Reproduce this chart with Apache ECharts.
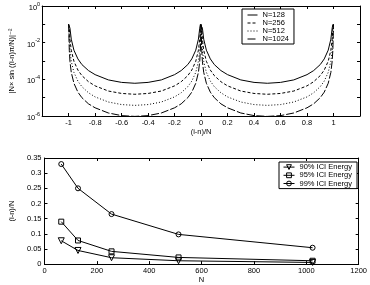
<!DOCTYPE html>
<html>
<head>
<meta charset="utf-8">
<script src="https://cdn.jsdelivr.net/npm/echarts@6/dist/echarts.min.js"></script>
<style>
  html, body { margin: 0; padding: 0; background: #fff; }
  #chart { width: 370px; height: 285px; }
</style>
</head>
<body>
<div id="chart"></div>
<script>
// top panel: |N x sin((i-n)pi/N)|^-2 against (i-n)/N
var xPos = [-1, -0.995, -0.99, -0.98, -0.96, -0.93, -0.9, -0.85, -0.8, -0.7, -0.6, -0.5,
    -0.4, -0.3, -0.2, -0.15, -0.1, -0.07, -0.04, -0.02, -0.01, -0.005, 0,
    0.005, 0.01, 0.02, 0.04, 0.07, 0.1, 0.15, 0.2, 0.3, 0.4, 0.5,
    0.6, 0.7, 0.8, 0.85, 0.9, 0.93, 0.96, 0.98, 0.99, 0.995, 1];

var n128 = [0.1, 0.1, 0.062, 0.0155, 0.0039, 0.0013, 6.4e-4, 3.0e-4, 1.8e-4, 9.3e-5, 6.8e-5, 6.1e-5,
    6.8e-5, 9.3e-5, 1.8e-4, 3.0e-4, 6.4e-4, 0.0013, 0.0039, 0.0155, 0.062, 0.1, 0.1,
    0.1, 0.062, 0.0155, 0.0039, 0.0013, 6.4e-4, 3.0e-4, 1.8e-4, 9.3e-5, 6.8e-5, 6.1e-5,
    6.8e-5, 9.3e-5, 1.8e-4, 3.0e-4, 6.4e-4, 0.0013, 0.0039, 0.0155, 0.062, 0.1, 0.1];

var n256 = [0.1, 0.062, 0.0155, 0.0039, 9.7e-4, 3.2e-4, 1.6e-4, 7.4e-5, 4.4e-5, 2.3e-5, 1.7e-5, 1.53e-5,
    1.7e-5, 2.3e-5, 4.4e-5, 7.4e-5, 1.6e-4, 3.2e-4, 9.7e-4, 0.0039, 0.0155, 0.062, 0.1,
    0.062, 0.0155, 0.0039, 9.7e-4, 3.2e-4, 1.6e-4, 7.4e-5, 4.4e-5, 2.3e-5, 1.7e-5, 1.53e-5,
    1.7e-5, 2.3e-5, 4.4e-5, 7.4e-5, 1.6e-4, 3.2e-4, 9.7e-4, 0.0039, 0.0155, 0.062, 0.1];

var n512 = [0.1, 0.0155, 0.0039, 9.7e-4, 2.4e-4, 8.0e-5, 4.0e-5, 1.85e-5, 1.1e-5, 5.8e-6, 4.2e-6, 3.8e-6,
    4.2e-6, 5.8e-6, 1.1e-5, 1.85e-5, 4.0e-5, 8.0e-5, 2.4e-4, 9.7e-4, 0.0039, 0.0155, 0.1,
    0.0155, 0.0039, 9.7e-4, 2.4e-4, 8.0e-5, 4.0e-5, 1.85e-5, 1.1e-5, 5.8e-6, 4.2e-6, 3.8e-6,
    4.2e-6, 5.8e-6, 1.1e-5, 1.85e-5, 4.0e-5, 8.0e-5, 2.4e-4, 9.7e-4, 0.0039, 0.0155, 0.1];

var n1024 = [0.1, 0.0039, 9.7e-4, 2.4e-4, 6.1e-5, 2.0e-5, 1.0e-5, 4.6e-6, 2.8e-6, 1.46e-6, 1.05e-6, 9.5e-7,
    1.05e-6, 1.46e-6, 2.8e-6, 4.6e-6, 1.0e-5, 2.0e-5, 6.1e-5, 2.4e-4, 9.7e-4, 0.0039, 0.1,
    0.0039, 9.7e-4, 2.4e-4, 6.1e-5, 2.0e-5, 1.0e-5, 4.6e-6, 2.8e-6, 1.46e-6, 1.05e-6, 9.5e-7,
    1.05e-6, 1.46e-6, 2.8e-6, 4.6e-6, 1.0e-5, 2.0e-5, 6.1e-5, 2.4e-4, 9.7e-4, 0.0039, 0.1];

// bottom panel: (i-n)/N needed for a given share of ICI energy
var sizes = [64, 128, 256, 512, 1024];
var ici90 = [0.077, 0.045, 0.021, 0.011, 0.0055];
var ici95 = [0.14, 0.078, 0.042, 0.022, 0.011];
var ici99 = [0.33, 0.25, 0.165, 0.098, 0.054];

var FONT = 'Liberation Sans, DejaVu Sans, Arial, sans-serif';
var FS = 7.5;

function pairs(xs, ys) {
    return xs.map(function (x, i) { return [x, ys[i]]; });
}

// only every second decade gets a label, like the matlab plot
function logLabel(v) {
    var e = Math.round(Math.log10(v));
    if (e % 2 !== 0) return '';
    return '{b|10}{s|' + e + '}';
}

var label = {color: '#000', fontFamily: FONT, fontSize: FS};
var line = {onZero: false, lineStyle: {color: '#000', width: 1}};
var tick = {inside: true, length: 3, lineStyle: {color: '#000'}};
var hiddenSymbol = {color: 'transparent', borderColor: 'transparent', borderWidth: 0};
var hollow = {color: 'transparent', borderColor: '#000', borderWidth: 1};

var myChart = echarts.init(document.getElementById('chart'), null, {renderer: 'canvas'});

myChart.setOption({
    animation: false,
    backgroundColor: '#fff',
    grid: [
        {left: 27, top: 6, right: 10, bottom: 169},
        {left: 27, top: 158, right: 10, bottom: 18}
    ],
    legend: [
        {
            data: ['N=128', 'N=256', 'N=512', 'N=1024'],
            orient: 'vertical',
            left: 242, top: 9,
            itemWidth: 10, itemHeight: 8, itemGap: 0,
            padding: [2, 5, 1, 5],
            borderColor: '#000', borderWidth: 1, backgroundColor: '#fff', borderRadius: 0,
            itemStyle: hiddenSymbol,
            lineStyle: {width: 1},
            textStyle: {color: '#000', fontFamily: FONT, fontSize: FS, lineHeight: 8}
        },
        {
            data: ['90% ICI Energy', '95% ICI Energy', '99% ICI Energy'],
            orient: 'vertical',
            left: 279, top: 162,
            itemWidth: 11, itemHeight: 6, itemGap: 0,
            padding: [1, 5, 1, 4],
            borderColor: '#000', borderWidth: 1, backgroundColor: '#fff', borderRadius: 0,
            itemStyle: hollow,
            lineStyle: {width: 1},
            textStyle: {color: '#000', fontFamily: FONT, fontSize: FS, lineHeight: 8.2}
        }
    ],
    xAxis: [
        {
            gridIndex: 0, type: 'value', min: -1.2, max: 1.2, interval: 0.2,
            name: '(i-n)/N', nameLocation: 'middle', nameGap: 11,
            nameTextStyle: label,
            axisLine: line, axisTick: tick, splitLine: {show: false},
            axisLabel: Object.assign({margin: 3, showMinLabel: false, showMaxLabel: false}, label)
        },
        {
            gridIndex: 0, type: 'value', position: 'top', min: -1.2, max: 1.2, interval: 0.2,
            axisLine: line, axisTick: tick, splitLine: {show: false}, axisLabel: {show: false}
        },
        {
            gridIndex: 1, type: 'value', min: 0, max: 1200, interval: 200,
            name: 'N', nameLocation: 'middle', nameGap: 10,
            nameTextStyle: label,
            axisLine: line, axisTick: tick, splitLine: {show: false},
            axisLabel: Object.assign({margin: 3, formatter: function (v) { return String(v); }}, label)
        },
        {
            gridIndex: 1, type: 'value', position: 'top', min: 0, max: 1200, interval: 200,
            axisLine: line, axisTick: tick, splitLine: {show: false}, axisLabel: {show: false}
        }
    ],
    yAxis: [
        {
            gridIndex: 0, type: 'log', logBase: 10, min: 1e-6, max: 1,
            name: '|N\u00d7 sin ((i-n)\u03c0/N)|\u207b\u00b2', nameLocation: 'middle', nameGap: 12,
            nameTextStyle: label,
            axisLine: line, axisTick: tick, splitLine: {show: false},
            axisLabel: Object.assign({
                margin: 2, formatter: logLabel,
                rich: {
                    b: {fontFamily: FONT, fontSize: FS, color: '#000', padding: [4, 0, 0, 0]},
                    s: {fontFamily: FONT, fontSize: 5.5, color: '#000', padding: [0, 0, 4, 0]}
                }
            }, label)
        },
        {
            gridIndex: 0, type: 'log', logBase: 10, min: 1e-6, max: 1, position: 'right',
            axisLine: line, axisTick: tick, splitLine: {show: false}, axisLabel: {show: false}
        },
        {
            gridIndex: 1, type: 'value', min: 0, max: 0.35, interval: 0.05,
            name: '(i-n)/N', nameLocation: 'middle', nameGap: 17,
            nameTextStyle: label,
            axisLine: line, axisTick: tick, splitLine: {show: false},
            axisLabel: Object.assign({margin: 3}, label)
        },
        {
            gridIndex: 1, type: 'value', min: 0, max: 0.35, interval: 0.05, position: 'right',
            axisLine: line, axisTick: tick, splitLine: {show: false}, axisLabel: {show: false}
        }
    ],
    series: [
        {name: 'N=128', type: 'line', xAxisIndex: 0, yAxisIndex: 0, symbol: 'none',
            lineStyle: {color: '#000', width: 1, type: 'solid'}, itemStyle: {color: '#000'},
            data: pairs(xPos, n128)},
        {name: 'N=256', type: 'line', xAxisIndex: 0, yAxisIndex: 0, symbol: 'none',
            lineStyle: {color: '#000', width: 1, type: [3, 2]}, itemStyle: {color: '#000'},
            data: pairs(xPos, n256)},
        {name: 'N=512', type: 'line', xAxisIndex: 0, yAxisIndex: 0, symbol: 'none',
            lineStyle: {color: '#000', width: 1, type: [1, 2]}, itemStyle: {color: '#000'},
            data: pairs(xPos, n512)},
        {name: 'N=1024', type: 'line', xAxisIndex: 0, yAxisIndex: 0, symbol: 'none',
            lineStyle: {color: '#000', width: 1, type: [8, 2]}, itemStyle: {color: '#000'},
            data: pairs(xPos, n1024)},

        {name: '90% ICI Energy', type: 'line', xAxisIndex: 2, yAxisIndex: 2,
            symbol: 'triangle', symbolRotate: 180, symbolSize: 6,
            lineStyle: {color: '#000', width: 1}, itemStyle: hollow,
            data: pairs(sizes, ici90)},
        {name: '95% ICI Energy', type: 'line', xAxisIndex: 2, yAxisIndex: 2,
            symbol: 'rect', symbolSize: 5,
            lineStyle: {color: '#000', width: 1}, itemStyle: hollow,
            data: pairs(sizes, ici95)},
        {name: '99% ICI Energy', type: 'line', xAxisIndex: 2, yAxisIndex: 2,
            symbol: 'circle', symbolSize: 5,
            lineStyle: {color: '#000', width: 1}, itemStyle: hollow,
            data: pairs(sizes, ici99)}
    ]
});
</script>
</body>
</html>
